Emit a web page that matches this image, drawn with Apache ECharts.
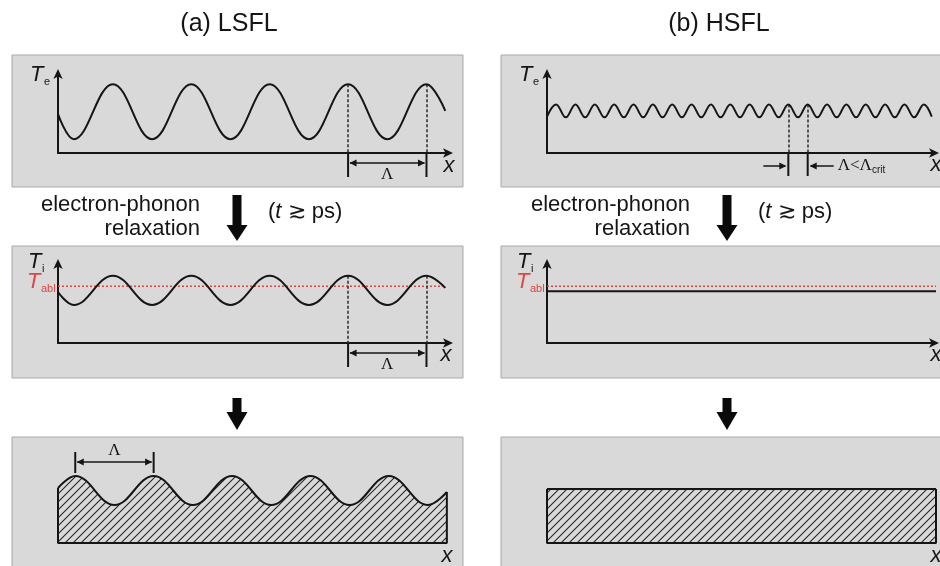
<!DOCTYPE html>
<html>
<head>
<meta charset="utf-8">
<title>LSFL vs HSFL</title>
<script src="https://cdn.jsdelivr.net/npm/echarts@6/dist/echarts.min.js"></script>
<style>
  html, body { margin: 0; padding: 0; background: #ffffff; }
  #chart { width: 940px; height: 566px; }
</style>
</head>
<body>
<div id="chart"></div>
<script>
// ---------------- data ----------------
// LSFL: position x in units of the ripple period Λ (extrema of the profiles)
const lsflX  = [0, 0.2, 0.7, 1.2, 1.7, 2.2, 2.7, 3.2, 3.7, 4.2, 4.7, 4.94];
const lsflTe = [48, 17, 85, 17, 85, 17, 85, 17, 85, 17, 85, 52];   // electron temperature
const lsflTi = [63, 47, 83, 47, 83, 47, 83, 47, 83, 47, 83, 68];   // lattice temperature
const tAbl   = 70;                                                  // ablation threshold
// resulting LSFL surface relief
const lsflSurfX = [0, 0.22, 0.72, 1.22, 1.72, 2.22, 2.72, 3.22, 3.72, 4.22, 4.72, 4.96];
const lsflSurf  = [55, 67, 38, 67, 38, 67, 38, 67, 38, 67, 38, 51];

// HSFL: position x in units of the (sub-critical) period Λ
const hsflX  = [0, 0.47, 0.97, 1.47, 1.97, 2.47, 2.97, 3.47, 3.97, 4.47, 4.97,
                5.47, 5.97, 6.47, 6.97, 7.47, 7.97, 8.47, 8.97, 9.47, 9.97,
                10.47, 10.97, 11.47, 11.97, 12.47, 12.97, 13.47, 13.97, 14.47, 14.97,
                15.47, 15.97, 16.47, 16.97, 17.47, 17.97, 18.47, 18.97, 19.47, 19.88];
const hsflTe = [45, 60, 44, 60, 44, 60, 44, 60, 44, 60, 44,
                60, 44, 60, 44, 60, 44, 60, 44, 60, 44,
                60, 44, 60, 44, 60, 44, 60, 44, 60, 44,
                60, 44, 60, 44, 60, 44, 60, 44, 60, 45];
const hsflTiX = [0, 20.1];
const hsflTi  = [64, 64];               // homogenised lattice temperature
const hsflSlabX = [0, 20.1];
const hsflSlab  = [54, 54];             // flat surface after ablation

// peaks used for the period markers
const lsflMarkA = 8, lsflMarkB = 10;    // indices in lsflX
const hsflMarkA = 25, hsflMarkB = 27;   // indices in hsflX
const surfMarkA = 1, surfMarkB = 3;     // indices in lsflSurfX

// ---------------- styling ----------------
const SANS  = '"Liberation Sans", Arial, Helvetica, sans-serif';
const SERIF = '"Liberation Serif", "Times New Roman", serif';
const INK = '#151515';
const RED = '#e0453e';
const SMOOTH = 0.4;

const pairs = (xs, ys) => xs.map((x, i) => [x, ys[i]]);

function hatchPattern() {
  const c = document.createElement('canvas');
  c.width = 8; c.height = 8;
  const g = c.getContext('2d');
  g.strokeStyle = '#262626';
  g.lineWidth = 1.1;
  g.beginPath();
  g.moveTo(-1, 9); g.lineTo(9, -1);
  g.moveTo(-1, 1); g.lineTo(1, -1);
  g.moveTo(7, 9);  g.lineTo(9, 7);
  g.stroke();
  return c;
}

function xAxis(gi, max, show) {
  return {
    type: 'value', gridIndex: gi, min: 0, max: max, show: show,
    axisLine: { show: true, onZero: false, lineStyle: { color: INK, width: 2 },
                symbol: ['none', 'arrow'], symbolSize: [7, 10], symbolOffset: [0, 3] },
    axisTick: { show: false }, axisLabel: { show: false }, splitLine: { show: false }
  };
}
function yAxis(gi, show) {
  return {
    type: 'value', gridIndex: gi, min: 0, max: 100, show: show,
    axisLine: { show: true, onZero: false, lineStyle: { color: INK, width: 2 },
                symbol: ['none', 'arrow'], symbolSize: [7, 10], symbolOffset: [0, 3] },
    axisTick: { show: false }, axisLabel: { show: false }, splitLine: { show: false }
  };
}

const curveStyle = { color: INK, width: 2 };
const dashStyle = { type: [3, 2], color: '#2a2a2a', width: 1.5 };

function peakDrops(xs, ys, ia, ib) {
  return {
    symbol: 'none', silent: true, label: { show: false }, lineStyle: dashStyle,
    emphasis: { disabled: true },
    data: [ia, ib].map(i => [{ coord: [xs[i], ys[i]] }, { coord: [xs[i], 0] }])
  };
}

const chart = echarts.init(document.getElementById('chart'), null, { renderer: 'canvas' });

const grids = [
  { left: 58,  top: 72,  width: 392, height: 81 },
  { left: 547, top: 72,  width: 389, height: 81 },
  { left: 58,  top: 262, width: 392, height: 81 },
  { left: 547, top: 262, width: 389, height: 81 },
  { left: 58,  top: 443, width: 392, height: 100 },
  { left: 547, top: 443, width: 389, height: 100 }
].map(g => Object.assign({ containLabel: false, outerBoundsMode: 'none' }, g));

const hatch = { image: hatchPattern(), repeat: 'repeat' };

chart.setOption({
  animation: false,
  backgroundColor: '#ffffff',
  grid: grids,
  xAxis: [xAxis(0, 5, true), xAxis(1, 20.1, true), xAxis(2, 5, true),
          xAxis(3, 20.1, true), xAxis(4, 5, false), xAxis(5, 20.1, false)],
  yAxis: [yAxis(0, true), yAxis(1, true), yAxis(2, true),
          yAxis(3, true), yAxis(4, false), yAxis(5, false)],
  series: [
    { name: 'Te LSFL', type: 'line', xAxisIndex: 0, yAxisIndex: 0, symbol: 'none', smooth: SMOOTH,
      lineStyle: curveStyle, silent: true, z: 5, data: pairs(lsflX, lsflTe),
      markLine: peakDrops(lsflX, lsflTe, lsflMarkA, lsflMarkB) },
    { name: 'Te HSFL', type: 'line', xAxisIndex: 1, yAxisIndex: 1, symbol: 'none', smooth: SMOOTH,
      lineStyle: curveStyle, silent: true, z: 5, data: pairs(hsflX, hsflTe),
      markLine: peakDrops(hsflX, hsflTe, hsflMarkA, hsflMarkB) },
    { name: 'Tabl LSFL', type: 'line', xAxisIndex: 2, yAxisIndex: 2, symbol: 'none',
      lineStyle: { color: RED, width: 1.5, type: [2, 2] }, silent: true, z: 4,
      data: [[lsflX[0], tAbl], [lsflX[lsflX.length - 1], tAbl]] },
    { name: 'Ti LSFL', type: 'line', xAxisIndex: 2, yAxisIndex: 2, symbol: 'none', smooth: SMOOTH,
      lineStyle: curveStyle, silent: true, z: 5, data: pairs(lsflX, lsflTi),
      markLine: peakDrops(lsflX, lsflTi, lsflMarkA, lsflMarkB) },
    { name: 'Tabl HSFL', type: 'line', xAxisIndex: 3, yAxisIndex: 3, symbol: 'none',
      lineStyle: { color: RED, width: 1.5, type: [2, 2] }, silent: true, z: 4,
      data: [[hsflTiX[0], tAbl], [hsflTiX[1], tAbl]] },
    { name: 'Ti HSFL', type: 'line', xAxisIndex: 3, yAxisIndex: 3, symbol: 'none',
      lineStyle: curveStyle, silent: true, z: 5, data: pairs(hsflTiX, hsflTi) },
    { name: 'surface LSFL', type: 'line', xAxisIndex: 4, yAxisIndex: 4, symbol: 'none', smooth: SMOOTH,
      lineStyle: curveStyle, silent: true, z: 5, data: pairs(lsflSurfX, lsflSurf),
      areaStyle: { color: hatch, opacity: 1, origin: 'start' } },
    { name: 'surface LSFL edges', type: 'line', xAxisIndex: 4, yAxisIndex: 4, symbol: 'none',
      lineStyle: curveStyle, silent: true, z: 5,
      data: [[lsflSurfX[0], lsflSurf[0]], [lsflSurfX[0], 0],
             [lsflSurfX[lsflSurfX.length - 1], 0],
             [lsflSurfX[lsflSurfX.length - 1], lsflSurf[lsflSurf.length - 1]]] },
    { name: 'surface HSFL', type: 'line', xAxisIndex: 5, yAxisIndex: 5, symbol: 'none',
      lineStyle: curveStyle, silent: true, z: 5, data: pairs(hsflSlabX, hsflSlab),
      areaStyle: { color: hatch, opacity: 1, origin: 'start' } },
    { name: 'surface HSFL edges', type: 'line', xAxisIndex: 5, yAxisIndex: 5, symbol: 'none',
      lineStyle: curveStyle, silent: true, z: 5,
      data: [[hsflSlabX[0], hsflSlab[0]], [hsflSlabX[0], 0], [hsflSlabX[1], 0], [hsflSlabX[1], hsflSlab[1]]] }
  ]
});

// ---------------- annotations ----------------
const P = (gi, x, y) => chart.convertToPixel({ gridIndex: gi }, [x, y]);
const G = [];

function panel(x, y, w, h) {
  G.push({ type: 'rect', z: -10, silent: true, shape: { x: x, y: y, width: w, height: h },
           style: { fill: '#d9d9d9', stroke: '#a9a9a9', lineWidth: 1 } });
}
function seg(x1, y1, x2, y2, w) {
  G.push({ type: 'line', z: 50, silent: true, shape: { x1: x1, y1: y1, x2: x2, y2: y2 },
           style: { stroke: INK, lineWidth: w || 1.5 } });
}
function head(x, y, dir) {
  G.push({ type: 'polygon', z: 50, silent: true,
           shape: { points: [[x, y], [x - 7 * dir, y - 3.5], [x - 7 * dir, y + 3.5]] },
           style: { fill: INK } });
}
function label(x, y, txt, o) {
  o = o || {};
  G.push({ type: 'text', z: 60, silent: true, x: x, y: y,
           style: { text: txt, fill: o.fill || INK, fontSize: o.size || 22,
                    fontFamily: o.family || SANS, fontStyle: o.style || 'normal',
                    align: o.align || 'left', verticalAlign: o.valign || 'middle',
                    rich: o.rich } });
}
function bigArrow(cx, yTop, yNeck, yTip) {
  G.push({ type: 'polygon', z: 50, silent: true,
           shape: { points: [[cx - 4.5, yTop], [cx + 4.5, yTop], [cx + 4.5, yNeck], [cx + 10.5, yNeck],
                             [cx, yTip], [cx - 10.5, yNeck], [cx - 4.5, yNeck]] },
           style: { fill: '#0a0a0a' } });
}

// panels
[55, 246].forEach(y => { panel(12, y, 451, 132); panel(501, y, 450, 132); });
panel(12, 437, 451, 140); panel(501, 437, 450, 140);

// titles
label(229, 24, '(a) LSFL', { size: 25, align: 'center' });
label(719, 24, '(b) HSFL', { size: 25, align: 'center' });

// process arrows and captions
[[237, 200], [727, 690]].forEach(([cx, right]) => {
  bigArrow(cx, 195, 225, 241);
  bigArrow(cx, 398, 412, 430);
  label(right, 205, 'electron-phonon', { align: 'right' });
  label(right, 229, 'relaxation', { align: 'right' });
  label(cx + 31, 212, '{n|(}{i|t}{n| \u2273 ps)}', {
    rich: { n: { fontSize: 22, fontFamily: SANS },
            i: { fontSize: 22, fontFamily: SANS, fontStyle: 'italic' } } });
});

// axis titles
function tLabel(x, y, sub, color) {
  label(x, y, 'T', { style: 'italic', size: 22, fill: color });
  label(x + 14, y + 7, sub, { size: 11, fill: color });
}
tLabel(30, 75, 'e', INK);   tLabel(519, 75, 'e', INK);
tLabel(28, 262, 'i', INK);  tLabel(517, 262, 'i', INK);
tLabel(27, 282, 'abl', RED); tLabel(516, 282, 'abl', RED);

const xLab = (x, y) => label(x, y, 'x', { style: 'italic', size: 22, align: 'center' });
xLab(449, 166); xLab(936, 165); xLab(446, 355); xLab(936, 355); xLab(447, 556); xLab(936, 556);

// LSFL period markers below the x axis
function periodBelow(gi) {
  const a = P(gi, lsflX[lsflMarkA], 0), b = P(gi, lsflX[lsflMarkB], 0);
  const y0 = a[1];
  seg(a[0], y0, a[0], y0 + 24, 2);
  seg(b[0], y0, b[0], y0 + 24, 2);
  const ya = y0 + 10;
  seg(a[0] + 2, ya, b[0] - 2, ya, 1.5);
  head(a[0] + 1.5, ya, -1);
  head(b[0] - 1.5, ya, 1);
  label((a[0] + b[0]) / 2, y0 + 22, '\u039B', { family: SERIF, size: 17, align: 'center' });
}
periodBelow(0);
periodBelow(2);

// HSFL period marker with inward arrows
(function () {
  const a = P(1, hsflX[hsflMarkA], 0), b = P(1, hsflX[hsflMarkB], 0);
  const y0 = a[1];
  seg(a[0], y0, a[0], y0 + 23, 2);
  seg(b[0], y0, b[0], y0 + 23, 2);
  const ya = y0 + 13;
  seg(a[0] - 25, ya, a[0] - 3, ya, 1.5); head(a[0] - 2, ya, 1);
  seg(b[0] + 3, ya, b[0] + 26, ya, 1.5); head(b[0] + 2, ya, -1);
  label(b[0] + 30, ya, '{a|\u039B<\u039B}{s|crit}', {
    rich: { a: { fontSize: 17, fontFamily: SERIF },
            s: { fontSize: 10, fontFamily: SANS, padding: [8, 0, 0, 0] } } });
})();

// LSFL surface period marker above two crests
(function () {
  const a = P(4, lsflSurfX[surfMarkA], lsflSurf[surfMarkA]);
  const b = P(4, lsflSurfX[surfMarkB], lsflSurf[surfMarkB]);
  const yp = a[1];
  seg(a[0], yp - 24, a[0], yp - 3, 2);
  seg(b[0], yp - 24, b[0], yp - 3, 2);
  const ya = yp - 14;
  seg(a[0] + 2, ya, b[0] - 2, ya, 1.5);
  head(a[0] + 1.5, ya, -1);
  head(b[0] - 1.5, ya, 1);
  label((a[0] + b[0]) / 2, yp - 25, '\u039B', { family: SERIF, size: 17, align: 'center' });
})();

chart.setOption({ graphic: { elements: G } });
</script>
</body>
</html>
